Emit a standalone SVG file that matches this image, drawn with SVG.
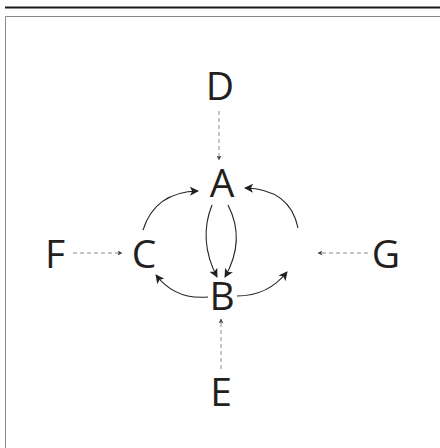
<svg xmlns="http://www.w3.org/2000/svg" width="440" height="448" viewBox="0 0 440 448">
<style>
.lbl{font-family:"Open Sans","Noto Sans",sans-serif;font-size:39px;font-weight:500;fill:#231f20;text-anchor:middle}
.solid{fill:none;stroke:#231f20;stroke-width:1.1;marker-end:url(#ah)}
.dash{fill:none;stroke:#8a8a8a;stroke-width:1;stroke-dasharray:4 3;marker-end:url(#ahs)}
</style>
<defs>
<marker id="ah" viewBox="0 0 10 10" refX="9" refY="5" markerWidth="9" markerHeight="9" markerUnits="userSpaceOnUse" orient="auto"><path d="M0,0 L10,5 L0,10 L2.5,5 Z" fill="#231f20"/></marker>
<marker id="ahs" viewBox="0 0 10 10" refX="9" refY="5" markerWidth="5" markerHeight="5" markerUnits="userSpaceOnUse" orient="auto"><path d="M0,0 L10,5 L0,10 L2.5,5 Z" fill="#444"/></marker>
</defs>
<rect width="440" height="448" fill="#fff"/>
<line x1="5" y1="7.5" x2="440" y2="7.5" stroke="#1a1a1a" stroke-width="2"/>
<path d="M5.5,448 V16.5 H440" fill="none" stroke="#888" stroke-width="1"/>
<g id="connectors">
<path class="solid" d="M143,230 Q155,192 198,191"/>
<path class="solid" d="M298,228 Q290,189 245,188"/>
<path class="solid" d="M212,205 Q198,240 217,277"/>
<path class="solid" d="M228,205 Q246,240 225,277"/>
<path class="solid" d="M208,297 Q175,300 156,275"/>
<path class="solid" d="M237,296 Q268,296 287,272"/>
<path class="dash" d="M219,111 V160"/>
<path class="dash" d="M221,369 V319"/>
<path class="dash" d="M73,253 H122"/>
<path class="dash" d="M368,253 H318"/>
</g>
<g id="node-D"><text class="lbl" x="220" y="100">D</text></g>
<g id="node-A"><text class="lbl" x="222" y="197">A</text></g>
<g id="node-B"><text class="lbl" x="222" y="310">B</text></g>
<g id="node-C"><text class="lbl" x="144" y="268">C</text></g>
<g id="node-F"><text class="lbl" x="55" y="268">F</text></g>
<g id="node-G"><text class="lbl" x="386" y="268">G</text></g>
<g id="node-E"><text class="lbl" x="221" y="406">E</text></g>
</svg>
